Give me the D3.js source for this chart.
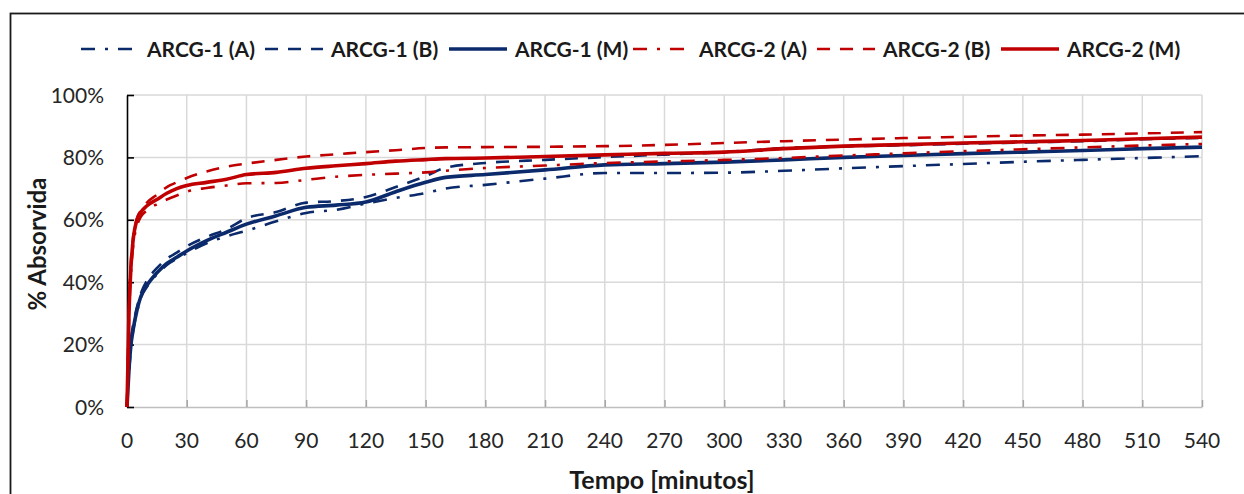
<!DOCTYPE html>
<html>
<head>
    <meta charset="utf-8">
    <title>% Absorvida vs Tempo</title>
    <script src="https://d3js.org/d3.v7.min.js"></script>
    <style>
        body {
            margin: 0;
            background: white;
        }
        svg {
            display: block;
            font-family: Lato, 'Open Sans', sans-serif;
        }
    </style>
</head>
<body>
    <svg width="1244" height="494"></svg>

<script>
    // tempo [minutos]
    let tempo = [0, 1, 2, 3, 5, 7, 10, 15, 20, 25, 30, 40, 50, 60, 75, 90, 105, 120, 135, 150, 160, 180,
                 210, 240, 270, 300, 330, 360, 390, 420, 450, 480, 510, 540]

    // % absorvida
    let arcg1A = [0, 11, 19, 24, 30.5, 35, 38.5, 42.5, 45.5, 47.5, 49.3, 52.5, 54.7, 56.5, 59.5, 62.2, 63.2, 65.2, 67, 68.6, 70, 71.2,
                  73.2, 75, 75, 75.1, 75.7, 76.5, 77.2, 77.9, 78.6, 79.2, 79.8, 80.4]
    let arcg1B = [0, 14, 22, 26, 32, 36.5, 40.5, 44.5, 47.5, 49.5, 51.5, 54.5, 57, 60.5, 62.5, 65.5, 66, 67.3, 70.5, 74, 76.7, 78.2,
                  79.2, 80.1, 80.9, 81.7, 83, 83.5, 83.9, 84.4, 84.8, 85.2, 85.8, 86.3]
    let arcg1M = [0, 12, 20, 24.5, 31, 35.5, 39, 43, 46, 48, 50, 53.3, 56, 58.6, 61.3, 64, 64.7, 65.7, 69, 72, 73.6, 74.5,
                  76, 77.6, 78, 78.5, 79.2, 80, 80.6, 81.2, 81.7, 82.2, 82.8, 83.3]
    let arcg2A = [0, 28, 43, 51, 58, 61, 63, 65, 66.5, 67.8, 69, 70.2, 71, 71.7, 71.8, 72.8, 73.8, 74.4, 74.8, 75.2, 75.7, 76.6,
                  77.4, 78.2, 78.7, 79.2, 79.8, 80.6, 81.3, 82, 82.6, 83.2, 83.8, 84.3]
    let arcg2B = [0, 32, 47, 54, 60.5, 63, 65.5, 68, 70.5, 72, 73.4, 75.5, 77, 78, 79.2, 80.3, 81, 81.7, 82.3, 83, 83.2, 83.3,
                  83.4, 83.6, 84, 84.6, 85.2, 85.7, 86.2, 86.6, 87, 87.3, 87.7, 88.1]
    let arcg2M = [0, 30, 45, 53, 60, 62.5, 64.5, 66.5, 68.5, 70, 71, 72, 73, 74.5, 75.2, 76.5, 77.3, 78, 78.8, 79.3, 79.6, 79.8,
                  80.3, 80.8, 81.3, 81.7, 82.8, 83.6, 84.1, 84.6, 85, 85.4, 86, 86.5]

    let seriesNames = ["ARCG-1 (A)", "ARCG-1 (B)", "ARCG-1 (M)", "ARCG-2 (A)", "ARCG-2 (B)", "ARCG-2 (M)"]
    let seriesValues = [arcg1A, arcg1B, arcg1M, arcg2A, arcg2B, arcg2M]

    let xTicks = d3.range(0, 541, 30)
    let yTicks = [0, 20, 40, 60, 80, 100]

    let blue = "#0b2a6b"
    let red = "#c00000"
    let styles = [
        { color: blue, width: 2.6, dash: "14,10,3,10" },
        { color: blue, width: 2.6, dash: "13,10" },
        { color: blue, width: 3.6, dash: null },
        { color: red, width: 2.6, dash: "14,10,3,10" },
        { color: red, width: 2.6, dash: "13,10" },
        { color: red, width: 3.6, dash: null }
    ]

    let svg = d3.select("svg")

    let plotLeft = 127, plotRight = 1202, plotTop = 95, plotBottom = 407

    let x = d3.scaleLinear().domain([0, 540]).range([plotLeft, plotRight])
    let y = d3.scaleLinear().domain([0, 100]).range([plotBottom, plotTop])

    // outer chart frame (cut on the right and bottom)
    svg.append("rect")
        .attr("x", 10.5).attr("y", 13.5)
        .attr("width", 1400).attr("height", 600)
        .style("fill", "none")
        .style("stroke", "#1a1a1a")
        .style("stroke-width", 1.8)

    // gridlines
    svg.append("g")
        .selectAll("line")
        .data(yTicks.slice(1))
        .join("line")
        .attr("x1", plotLeft).attr("x2", plotRight)
        .attr("y1", d => y(d)).attr("y2", d => y(d))
        .style("stroke", "#d9d9d9")
        .style("stroke-width", 1.5)

    svg.append("g")
        .selectAll("line")
        .data(xTicks.slice(1))
        .join("line")
        .attr("x1", d => x(d)).attr("x2", d => x(d))
        .attr("y1", plotTop).attr("y2", plotBottom)
        .style("stroke", "#d9d9d9")
        .style("stroke-width", 1.5)

    // x axis (grey, inner ticks)
    let xAxis = svg.append("g")
        .attr("transform", `translate(0,${plotBottom})`)
        .call(d3.axisBottom(x).tickValues(xTicks).tickSizeInner(-7).tickSizeOuter(0).tickFormat(""))
    xAxis.select(".domain").style("stroke", "#bfbfbf").style("stroke-width", 1.5)
    xAxis.selectAll(".tick line").style("stroke", "#a6a6a6").style("stroke-width", 1.5)

    svg.append("g")
        .selectAll("text")
        .data(xTicks)
        .join("text")
        .attr("x", d => x(d))
        .attr("y", 448)
        .attr("text-anchor", "middle")
        .style("font-size", "21px")
        .style("fill", "#262626")
        .text(d => d)

    // y axis (black, inner ticks)
    let yAxis = svg.append("g")
        .attr("transform", `translate(${plotLeft},0)`)
        .call(d3.axisLeft(y).tickValues(yTicks).tickSizeInner(-7).tickSizeOuter(0).tickFormat(""))
    yAxis.select(".domain").style("stroke", "black").style("stroke-width", 1.6)
    yAxis.selectAll(".tick line").style("stroke", "black").style("stroke-width", 1.6)

    svg.append("g")
        .selectAll("text")
        .data(yTicks)
        .join("text")
        .attr("x", 104)
        .attr("y", d => y(d) + 7.5)
        .attr("text-anchor", "end")
        .style("font-size", "21px")
        .style("fill", "#262626")
        .text(d => d + "%")

    // series
    let line = d3.line()
        .x((d, i) => x(tempo[i]))
        .y(d => y(d))
        .curve(d3.curveMonotoneX)

    svg.append("g")
        .selectAll("path")
        .data(seriesValues)
        .join("path")
        .attr("d", d => line(d))
        .style("fill", "none")
        .style("stroke", (d, i) => styles[i].color)
        .style("stroke-width", (d, i) => styles[i].width)
        .style("stroke-dasharray", (d, i) => styles[i].dash)
        .style("stroke-linejoin", "round")

    // axis titles
    svg.append("text")
        .attr("x", 662).attr("y", 489)
        .attr("text-anchor", "middle")
        .style("font-size", "25px")
        .style("font-weight", "bold")
        .style("fill", "#1a1a1a")
        .text("Tempo [minutos]")

    svg.append("text")
        .attr("transform", "translate(46,244) rotate(-90)")
        .attr("text-anchor", "middle")
        .style("font-size", "24px")
        .style("font-weight", "bold")
        .style("fill", "#1a1a1a")
        .text("% Absorvida")

    // legend
    let legend = svg.append("g")
        .selectAll("g")
        .data(seriesNames)
        .join("g")
        .attr("transform", (d, i) => `translate(${147 + i * 184},0)`)

    legend.append("line")
        .attr("x1", -66).attr("x2", -8)
        .attr("y1", 49).attr("y2", 49)
        .style("stroke", (d, i) => styles[i].color)
        .style("stroke-width", (d, i) => styles[i].width)
        .style("stroke-dasharray", (d, i) => styles[i].dash)

    legend.append("text")
        .attr("x", 0).attr("y", 57)
        .style("font-size", "21px")
        .style("font-weight", "bold")
        .style("fill", "#1a1a1a")
        .text(d => d)
</script>
</body>
</html>
